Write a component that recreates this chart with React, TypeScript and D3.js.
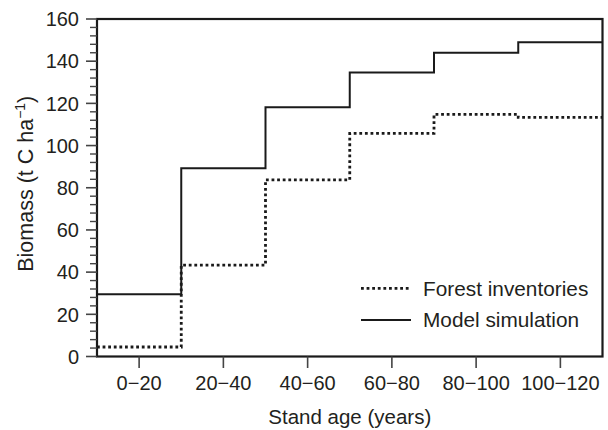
import React from "react";
import * as d3 from "d3";

const categories = ["0\u221220", "20\u221240", "40\u221260", "60\u221280", "80\u2212100", "100\u2212120"];
const modelSimulation = [29.5, 89.2, 118.2, 134.6, 144.0, 149.0];
const forestInventories = [4.5, 43.3, 83.7, 105.8, 114.8, 113.4];
const yTicks = [0, 20, 40, 60, 80, 100, 120, 140, 160];
const seriesNames = ["Forest inventories", "Model simulation"];

const W = 608;
const H = 430;
const M = { left: 97, right: 602.5, top: 19, bottom: 356.5 };
const FONT = "'Liberation Sans', Arial, Helvetica, sans-serif";
const TXT = "#231f20";
const INK = "#1a1a1a";

export default function App() {
  const x = d3.scaleBand<string>().domain(categories).range([M.left, M.right]).padding(0);
  const y = d3.scaleLinear().domain([0, 160]).range([M.bottom, M.top]);
  const bw = x.bandwidth();

  const stepPath = (vals: number[]) => {
    const pts: [number, number][] = categories.map((c, i) => [x(c) as number, y(vals[i])]);
    pts.push([(x(categories[categories.length - 1]) as number) + bw, y(vals[vals.length - 1])]);
    return d3.line().curve(d3.curveStepAfter)(pts) || "";
  };

  const minorTicks = d3.range(0, 161, 4).filter((v) => v % 20 !== 0);

  return (
    <div style={{ position: "absolute", left: 0, top: 0 }}>
      <svg width={W} height={H} style={{ display: "block", background: "#fff" }}>
        {/* series */}
        <path d={stepPath(modelSimulation)} fill="none" stroke={INK} strokeWidth={2} />
        <path
          d={stepPath(forestInventories)}
          fill="none"
          stroke={INK}
          strokeWidth={2.8}
          strokeDasharray="2.8,2.8"
        />

        {/* frame */}
        <rect
          x={M.left}
          y={M.top}
          width={M.right - M.left}
          height={M.bottom - M.top}
          fill="none"
          stroke={INK}
          strokeWidth={2.2}
        />

        {/* y ticks */}
        {yTicks.map((t) => (
          <g key={"y" + t}>
            <line x1={M.left - 11} x2={M.left} y1={y(t)} y2={y(t)} stroke="#444" strokeWidth={1.6} />
            <text
              x={79}
              y={y(t) + 7.2}
              textAnchor="end"
              fontFamily={FONT}
              fontSize={20}
              fill={TXT}
            >
              {t}
            </text>
          </g>
        ))}
        {minorTicks.map((t) => (
          <line key={"m" + t} x1={M.left - 7} x2={M.left} y1={y(t)} y2={y(t)} stroke="#444" strokeWidth={1.4} />
        ))}

        {/* x ticks */}
        {categories.map((c) => {
          const cx = (x(c) as number) + bw / 2;
          return (
            <g key={"x" + c}>
              <line x1={cx} x2={cx} y1={M.bottom} y2={M.bottom + 11.5} stroke="#444" strokeWidth={1.6} />
              <text x={cx} y={390} textAnchor="middle" fontFamily={FONT} fontSize={20} fill={TXT}>
                {c}
              </text>
            </g>
          );
        })}

        {/* axis titles */}
        <text
          x={(M.left + M.right) / 2}
          y={424}
          textAnchor="middle"
          fontFamily={FONT}
          fontSize={20.5}
          fill={TXT}
        >
          Stand age (years)
        </text>
        <text
          transform={`translate(33,${(M.top + M.bottom) / 2 - 4}) rotate(-90)`}
          textAnchor="middle"
          fontFamily={FONT}
          fontSize={21.5}
          fill={TXT}
        >
          Biomass (t C ha
          <tspan fontSize={14} dy={-8.5}>{"\u22121"}</tspan>
          <tspan dy={8.5}>)</tspan>
        </text>

        {/* legend */}
        <line x1={361} x2={411} y1={288.3} y2={288.3} stroke={INK} strokeWidth={2.8} strokeDasharray="2.8,2.8" />
        <text x={423} y={296} fontFamily={FONT} fontSize={20.8} fill={TXT}>
          {seriesNames[0]}
        </text>
        <line x1={361} x2={411} y1={320} y2={320} stroke={INK} strokeWidth={2} />
        <text x={423} y={327} fontFamily={FONT} fontSize={20.8} fill={TXT}>
          {seriesNames[1]}
        </text>
      </svg>
    </div>
  );
}
